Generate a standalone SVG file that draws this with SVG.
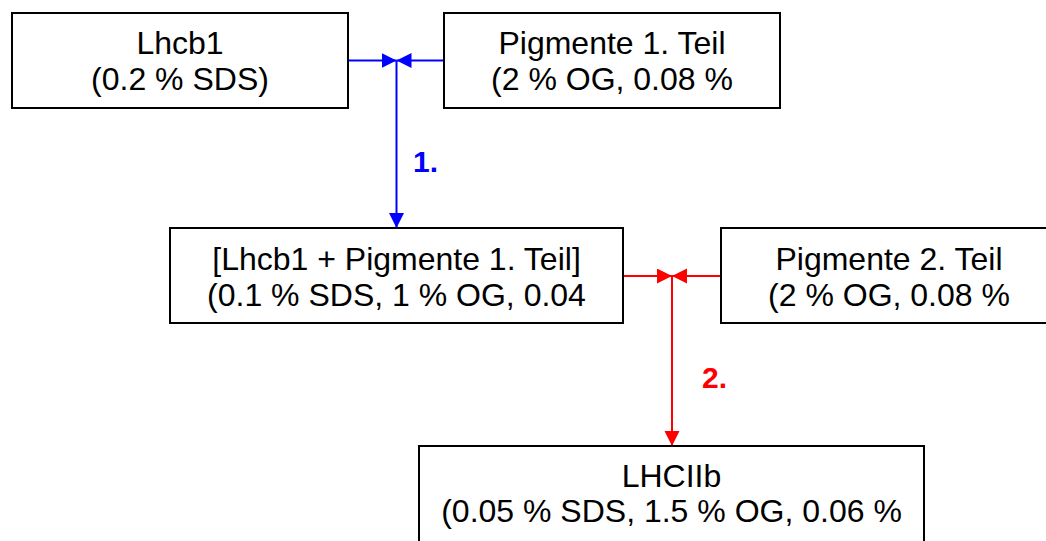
<svg xmlns="http://www.w3.org/2000/svg" width="1046" height="541" viewBox="0 0 1046 541">
<style>
.box{fill:#fff;stroke:#000;stroke-width:2}
.t{font-family:"Liberation Sans",Arial,sans-serif;font-size:32px;fill:#000;text-anchor:middle}
.lbl{font-family:"Liberation Sans",Arial,sans-serif;font-size:30px;font-weight:bold}
.blue{stroke:#0000ff;stroke-width:2;fill:none}
.red{stroke:#ff0000;stroke-width:2;fill:none}
</style>
<defs>
<marker id="ab" markerUnits="userSpaceOnUse" markerWidth="16" markerHeight="16" refX="15" refY="7.5" orient="auto"><path d="M0,0 L15,7.5 L0,15 z" fill="#0000ff"/></marker>
<marker id="ar" markerUnits="userSpaceOnUse" markerWidth="16" markerHeight="16" refX="15" refY="7.5" orient="auto"><path d="M0,0 L15,7.5 L0,15 z" fill="#ff0000"/></marker>
</defs>
<rect width="1046" height="541" fill="#fff"/>
<g id="connectors">
<line class="blue" x1="348" y1="60.5" x2="396.5" y2="60.5" marker-end="url(#ab)"/>
<line class="blue" x1="444" y1="60.5" x2="396.5" y2="60.5" marker-end="url(#ab)"/>
<line class="blue" x1="396.5" y1="60.5" x2="396.5" y2="228" marker-end="url(#ab)"/>
<line class="red" x1="623" y1="276" x2="672" y2="276" marker-end="url(#ar)"/>
<line class="red" x1="721" y1="276" x2="672" y2="276" marker-end="url(#ar)"/>
<line class="red" x1="672" y1="276" x2="672" y2="446" marker-end="url(#ar)"/>
<text class="lbl" x="413" y="172" fill="#0000ff">1.</text>
<text class="lbl" x="702" y="388" fill="#ff0000">2.</text>
</g>
<g id="lhcb1">
<rect class="box" x="12" y="13" width="336" height="95"/>
<text class="t" x="180" y="53.5">Lhcb1</text>
<text class="t" x="180" y="89.5">(0.2 % SDS)</text>
</g>
<g id="pigmente1">
<rect class="box" x="444" y="13" width="336" height="95"/>
<text class="t" x="612" y="53.5">Pigmente 1. Teil</text>
<text class="t" x="612" y="89.5">(2 % OG, 0.08 %</text>
</g>
<g id="combined">
<rect class="box" x="170" y="228" width="453" height="95"/>
<text class="t" x="396.5" y="269.5">[Lhcb1 + Pigmente 1. Teil]</text>
<text class="t" x="396.5" y="305.5">(0.1 % SDS, 1 % OG, 0.04</text>
</g>
<g id="pigmente2">
<rect class="box" x="721" y="228" width="336" height="95"/>
<text class="t" x="889" y="269.5">Pigmente 2. Teil</text>
<text class="t" x="889" y="305.5">(2 % OG, 0.08 %</text>
</g>
<g id="lhciib">
<rect class="box" x="419" y="446" width="505" height="120"/>
<text class="t" x="671.5" y="487">LHCIIb</text>
<text class="t" x="671.5" y="522">(0.05 % SDS, 1.5 % OG, 0.06 %</text>
</g>
</svg>
